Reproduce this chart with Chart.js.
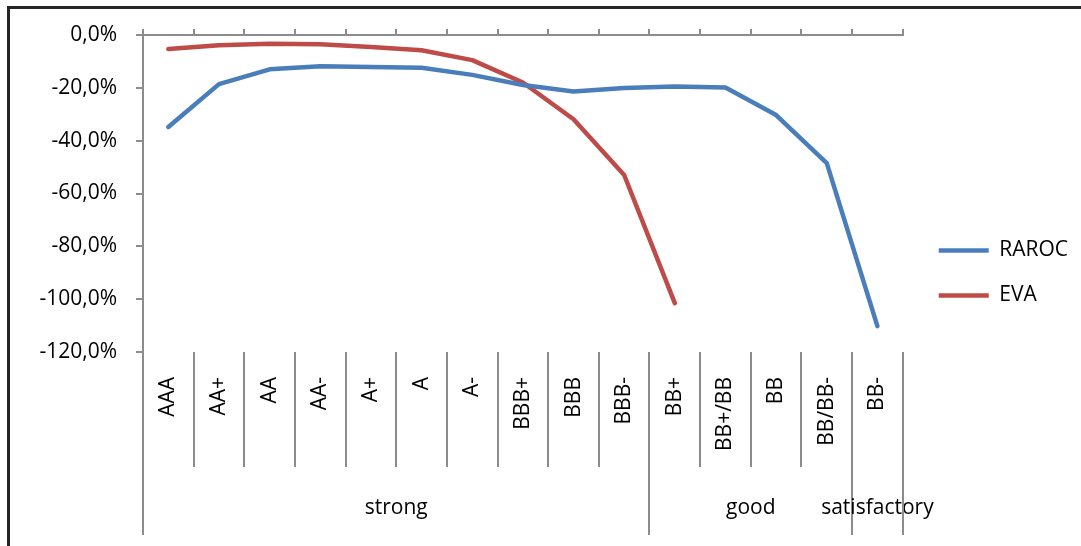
<!DOCTYPE html>
<html lang="en">
<head>
    <meta charset="UTF-8">
    <title>RAROC vs EVA</title>
    <style>
        body { margin: 0; background: #fff; overflow: hidden; }
        #wrap { position: relative; width: 1081px; height: 546px; }
        #frame { position: absolute; left: 7px; top: 6px; width: 1200px; height: 700px;
                 border-left: 3px solid #262626; border-top: 3px solid #262626; pointer-events: none; }
    </style>
</head>
<body>
    <div id="wrap">
        <canvas id="myChart" width="1081" height="546"></canvas>
        <div id="frame"></div>
    </div>

<script src="https://cdn.jsdelivr.net/npm/chart.js"></script>
    <script>
        // values (in %)
        const ratings = ['AAA','AA+','AA','AA-','A+','A','A-','BBB+','BBB','BBB-','BB+','BB+/BB','BB','BB/BB-','BB-']
        const groupNames = ['strong','good','satisfactory']
        const groupSizes = [10, 4, 1]
        const raroc = [-34.8,-18.6,-13.0,-11.8,-12.1,-12.4,-15.1,-18.9,-21.4,-20.1,-19.5,-19.9,-30.3,-48.5,-110.2]
        const eva = [-5.3,-3.9,-3.3,-3.5,-4.5,-5.8,-9.5,-18.0,-31.9,-53.0,-101.5,null,null,null,null]
        const yMin = -120, yMax = 0, yStep = 20

        const axisColor = '#8c8c8c'
        Chart.defaults.font.family = '"Open Sans", sans-serif'
        Chart.defaults.font.size = 21
        Chart.defaults.color = '#000'

        // separators under the category labels + the group row
        const groupAxis = {
            id: 'groupAxis',
            afterDraw(chart) {
                const ctx = chart.ctx
                const xs = chart.scales.x
                const top = chart.chartArea.bottom
                const rowBottom = top + 115
                const groupBottom = top + 183
                ctx.save()
                ctx.strokeStyle = axisColor
                ctx.lineWidth = 2
                for (let i = 0; i <= ratings.length; i++) {
                    let x = Math.round(xs.getPixelForValue(i - 0.5))
                    ctx.beginPath()
                    ctx.moveTo(x, top)
                    ctx.lineTo(x, rowBottom)
                    ctx.stroke()
                }
                ctx.fillStyle = '#000'
                ctx.font = '21px "Open Sans"'
                ctx.textAlign = 'center'
                ctx.textBaseline = 'middle'
                let start = 0
                for (let g = 0; g <= groupNames.length; g++) {
                    let x = Math.round(xs.getPixelForValue(start - 0.5))
                    ctx.beginPath()
                    ctx.moveTo(x, rowBottom)
                    ctx.lineTo(x, groupBottom)
                    ctx.stroke()
                    if (g < groupNames.length) {
                        let a = xs.getPixelForValue(start - 0.5)
                        let b = xs.getPixelForValue(start + groupSizes[g] - 0.5)
                        ctx.fillText(groupNames[g], (a + b) / 2, rowBottom + 41)
                        start += groupSizes[g]
                    }
                }
                ctx.restore()
            }
        }

        var ctx = document.getElementById('myChart')
        new Chart(ctx, {
            type: 'line',
            data: {
                labels: ratings,
                datasets: [{
                    label: 'RAROC',
                    data: raroc,
                    borderColor: '#4A7EBB',
                    backgroundColor: '#4A7EBB',
                    borderWidth: 4.5,
                    borderCapStyle: 'round',
                    borderJoinStyle: 'round',
                    pointRadius: 0,
                    tension: 0
                }, {
                    label: 'EVA',
                    data: eva,
                    borderColor: '#BE4B48',
                    backgroundColor: '#BE4B48',
                    borderWidth: 4.5,
                    borderCapStyle: 'round',
                    borderJoinStyle: 'round',
                    pointRadius: 0,
                    tension: 0
                }]
            },
            options: {
                responsive: false,
                animation: false,
                layout: { padding: { right: 3 } },
                plugins: {
                    tooltip: { enabled: false },
                    legend: {
                        position: 'right',
                        align: 'center',
                        labels: {
                            usePointStyle: true,
                            pointStyle: 'line',
                            pointStyleWidth: 50,
                            padding: 24,
                            color: '#000',
                            font: { size: 21 }
                        }
                    }
                },
                scales: {
                    x: {
                        position: 'top',
                        offset: true,
                        grid: { offset: true, drawOnChartArea: false, tickLength: 6, color: axisColor, lineWidth: 2 },
                        border: { color: axisColor, width: 2 },
                        ticks: { display: false },
                        afterFit: s => { s.height = 35 }
                    },
                    x2: {
                        type: 'category',
                        position: 'bottom',
                        offset: true,
                        grid: { display: false, drawTicks: false },
                        border: { display: false },
                        ticks: { autoSkip: false, minRotation: 90, maxRotation: 90, padding: 25 },
                        afterFit: s => { s.height = 194 }
                    },
                    y: {
                        min: yMin,
                        max: yMax,
                        grid: { drawOnChartArea: false, tickLength: 7, color: axisColor, lineWidth: 2 },
                        border: { color: axisColor, width: 2 },
                        ticks: {
                            stepSize: yStep,
                            padding: 19,
                            callback: v => v.toFixed(1).replace('.', ',') + '%'
                        },
                        afterFit: s => { s.width = 143 }
                    },
                    gap: {
                        type: 'linear',
                        position: 'right',
                        grid: { display: false },
                        border: { display: false },
                        ticks: { display: false },
                        afterFit: s => { s.width = 12 }
                    }
                }
            },
            plugins: [groupAxis]
        })
    </script>
</body>
</html>
